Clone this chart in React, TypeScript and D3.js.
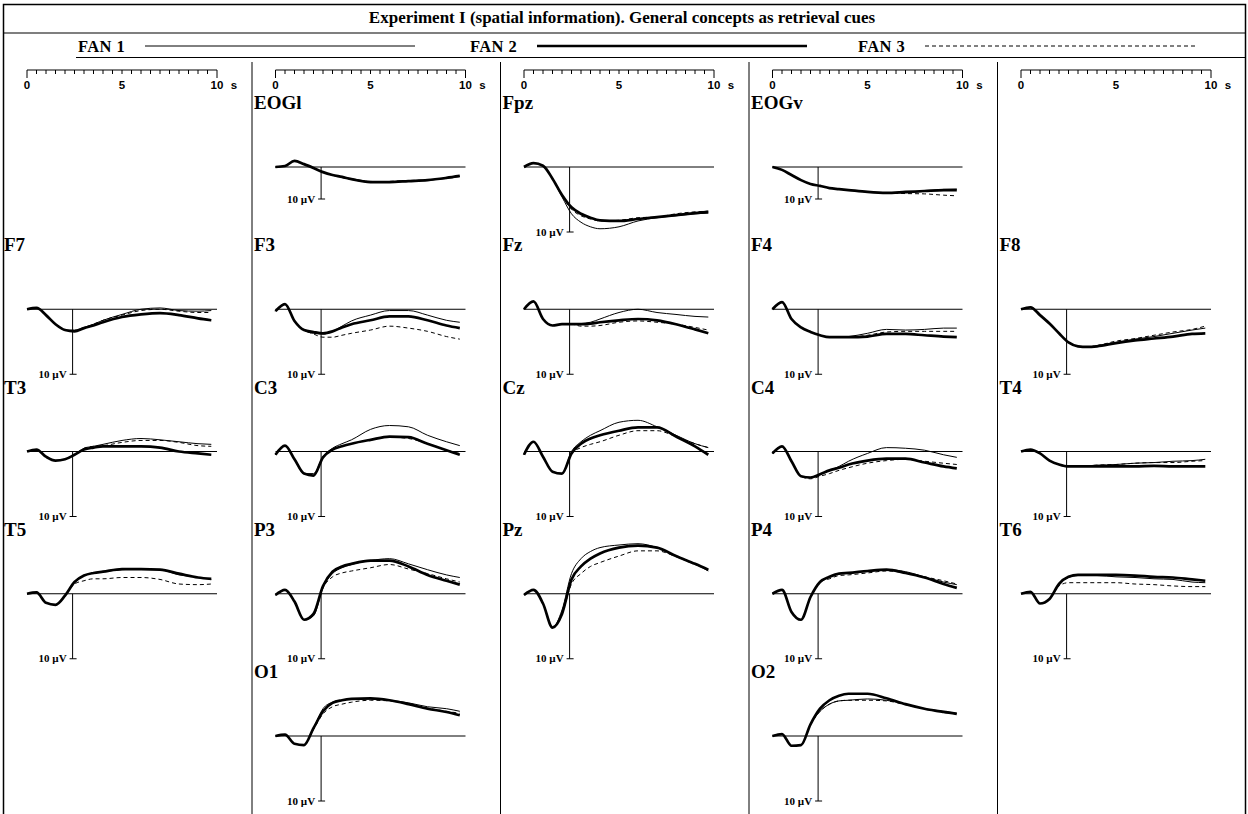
import React from 'react';
import * as d3 from 'd3';

// sample times (s) shared by every trace
const TIMES = [0, 0.5, 1, 1.5, 2, 2.5, 3, 3.5, 4, 5, 6, 7, 8, 9, 9.7];
const AXIS_TICKS = [0, 5, 10];
const FAN_LABELS = ['FAN 1', 'FAN 2', 'FAN 3'];
const TITLE = 'Experiment I (spatial information). General concepts as retrieval cues';

// µV values, positive plotted downward; each channel: [FAN 1, FAN 2, FAN 3]
const EOGL = [
  [0, -0.3, -1.9, -0.9, 0.3, 1.6, 2.5, 3.1, 3.6, 4.5, 4.7, 4.5, 4.1, 3.6, 3.0],
  [0, -0.3, -1.9, -0.9, 0.3, 1.6, 2.5, 3.1, 3.8, 4.7, 4.7, 4.4, 4.1, 3.4, 2.8],
  [0, -0.3, -1.9, -0.9, 0.3, 1.6, 2.6, 3.3, 3.9, 4.7, 4.5, 4.2, 4.1, 3.4, 2.8],
];
const FPZ = [
  [0, -0.6, -0.2, 1.8, 4.6, 7.2, 8.5, 9.2, 9.5, 9.2, 8.3, 7.8, 7.5, 7.2, 7.1],
  [0, -0.6, -0.2, 1.8, 4.3, 6.2, 7.2, 7.8, 8.2, 8.3, 8.0, 7.7, 7.4, 7.1, 6.9],
  [0, -0.6, -0.2, 1.8, 4.4, 6.5, 7.5, 8.0, 8.3, 8.2, 7.8, 7.7, 7.2, 6.9, 6.8],
];
const EOGV = [
  [0, 0.9, 2.5, 4.1, 5.3, 5.9, 6.6, 6.9, 7.2, 7.8, 8.1, 8.1, 7.6, 7.0, 6.9],
  [0, 0.9, 2.5, 4.1, 5.3, 5.9, 6.6, 6.9, 7.2, 7.8, 8.1, 7.8, 7.5, 7.2, 7.2],
  [0, 0.9, 2.5, 4.1, 5.3, 5.9, 6.6, 6.9, 7.2, 7.8, 8.1, 8.3, 8.4, 8.8, 9.0],
];
const F7 = [
  [0, -0.2, 0.9, 2.3, 3.2, 3.2, 2.8, 2.3, 1.7, 0.8, 0, -0.2, 0.2, 0.3, 0.2],
  [0, -0.2, 0.9, 2.3, 3.2, 3.4, 2.9, 2.5, 2.0, 1.2, 0.8, 0.6, 0.9, 1.4, 1.7],
  [0, -0.2, 0.9, 2.3, 3.2, 3.4, 2.9, 2.3, 1.7, 0.9, 0.2, 0, 0.3, 0.5, 0.5],
];
const F3 = [
  [0.3, -0.8, 1.8, 3.2, 3.7, 3.8, 3.4, 2.6, 1.8, 0.9, 0.2, 0.2, 0.9, 1.7, 2.0],
  [0.3, -0.8, 1.8, 3.2, 3.5, 3.7, 3.4, 2.8, 2.3, 1.7, 1.1, 1.1, 1.7, 2.5, 2.9],
  [0.3, -0.8, 1.8, 3.2, 3.8, 4.3, 4.3, 4.0, 3.7, 3.2, 2.6, 2.9, 3.4, 4.2, 4.6],
];
const FZ = [
  [0, -1.2, 1.5, 2.5, 2.3, 2.3, 2.2, 2.0, 1.5, 0.5, 0, 0.5, 0.8, 1.1, 1.2],
  [0, -1.2, 1.5, 2.5, 2.3, 2.3, 2.3, 2.2, 2.0, 1.7, 1.5, 1.7, 2.3, 3.1, 3.7],
  [0, -1.2, 1.5, 2.5, 2.3, 2.3, 2.6, 2.6, 2.5, 2.0, 1.8, 2.0, 2.3, 2.8, 3.2],
];
const F4 = [
  [0, -1.1, 1.5, 2.8, 3.5, 4.0, 4.3, 4.3, 4.2, 3.7, 3.1, 3.2, 3.1, 2.9, 2.9],
  [0, -1.1, 1.5, 2.8, 3.5, 4.0, 4.3, 4.3, 4.3, 4.2, 3.8, 3.8, 4.0, 4.2, 4.3],
  [0, -1.1, 1.5, 2.8, 3.5, 4.0, 4.3, 4.3, 4.3, 4.0, 3.5, 3.4, 3.4, 3.4, 3.4],
];
const F8 = [
  [0, -0.3, 0.9, 2.2, 3.7, 5.1, 5.7, 5.8, 5.6, 5.1, 4.6, 4.2, 3.7, 3.2, 2.9],
  [0, -0.3, 0.9, 2.2, 3.7, 5.1, 5.7, 5.8, 5.7, 5.2, 4.8, 4.5, 4.2, 3.8, 3.7],
  [0, -0.3, 0.9, 2.2, 3.7, 5.1, 5.7, 5.8, 5.6, 4.9, 4.5, 4.0, 3.5, 3.1, 2.6],
];
const T3 = [
  [0, -0.3, 0.8, 1.4, 1.2, 0.5, -0.5, -0.8, -1.1, -1.7, -2.0, -1.8, -1.5, -1.2, -1.1],
  [0, -0.3, 0.8, 1.4, 1.2, 0.5, -0.3, -0.6, -0.8, -0.8, -0.8, -0.6, 0, 0.3, 0.5],
  [0, -0.3, 0.8, 1.4, 1.2, 0.5, -0.5, -0.8, -0.9, -1.4, -1.7, -1.7, -1.4, -0.9, -0.8],
];
const C3 = [
  [0.5, -0.9, 1.2, 3.4, 3.4, 0.8, -0.5, -1.2, -1.8, -3.4, -4.0, -3.8, -2.5, -1.5, -0.9],
  [0.5, -0.9, 1.2, 3.4, 3.7, 0.9, -0.3, -0.8, -1.2, -1.8, -2.3, -2.2, -1.2, -0.2, 0.5],
  [0.5, -0.9, 1.2, 3.4, 3.7, 0.9, -0.3, -0.8, -1.2, -1.8, -2.2, -2.0, -1.2, -0.2, 0.3],
];
const CZ = [
  [0.5, -1.5, 0.8, 3.1, 3.4, 0, -1.5, -2.5, -3.2, -4.5, -4.8, -3.8, -2.5, -1.2, -0.6],
  [0.5, -1.5, 0.8, 3.1, 3.4, 0.3, -1.2, -2.0, -2.5, -3.2, -3.7, -3.7, -2.3, -0.8, 0.5],
  [0.5, -1.5, 0.8, 3.1, 3.4, 0.3, -0.6, -1.1, -1.5, -2.5, -3.2, -3.2, -2.3, -1.2, -0.6],
];
const C4 = [
  [0.3, -0.8, 1.5, 3.8, 4.0, 3.5, 2.9, 2.3, 1.5, 0.3, -0.6, -0.5, -0.2, 0.5, 0.9],
  [0.3, -0.8, 1.5, 3.8, 4.0, 3.5, 2.9, 2.5, 2.0, 1.4, 1.1, 1.1, 1.7, 2.3, 2.6],
  [0.3, -0.8, 1.5, 3.8, 4.2, 3.8, 3.4, 2.9, 2.5, 1.8, 1.4, 1.2, 1.5, 1.8, 2.0],
];
const T4 = [
  [0, -0.3, 0.3, 1.4, 2.0, 2.3, 2.3, 2.2, 2.1, 2.0, 1.8, 1.7, 1.5, 1.4, 1.2],
  [0, -0.3, 0.3, 1.4, 2.0, 2.3, 2.3, 2.3, 2.3, 2.3, 2.3, 2.2, 2.3, 2.3, 2.3],
  [0, -0.3, 0.3, 1.4, 2.0, 2.3, 2.3, 2.2, 2.1, 2.0, 1.8, 1.7, 1.7, 1.5, 1.4],
];
const T5 = [
  [0, -0.2, 1.4, 1.7, 0.3, -1.8, -2.8, -3.2, -3.4, -3.7, -3.8, -3.7, -2.9, -2.5, -2.2],
  [0, -0.2, 1.4, 1.7, 0.3, -1.8, -2.8, -3.2, -3.4, -3.8, -3.8, -3.7, -3.1, -2.5, -2.3],
  [0, -0.2, 1.4, 1.7, 0.3, -1.5, -2.0, -2.3, -2.3, -2.5, -2.5, -2.2, -1.5, -1.4, -1.5],
];
const P3 = [
  [0.2, -0.6, 1.2, 4.0, 3.4, -0.9, -3.1, -4.0, -4.5, -5.1, -5.4, -4.6, -3.7, -2.9, -2.5],
  [0.2, -0.6, 1.2, 4.0, 3.1, -1.2, -3.4, -4.2, -4.6, -5.1, -5.1, -4.2, -2.9, -2.0, -1.4],
  [0.2, -0.6, 1.2, 4.0, 3.1, -0.9, -2.6, -3.2, -3.5, -4.0, -4.5, -3.8, -3.1, -2.3, -1.8],
];
const PZ = [
  [0.2, -0.6, 1.5, 5.2, 2.5, -3.1, -5.4, -6.5, -7.1, -7.5, -7.7, -7.1, -5.8, -4.6, -3.5],
  [0.2, -0.6, 1.5, 5.2, 3.1, -2.2, -4.2, -5.4, -6.2, -7.1, -7.4, -7.1, -5.8, -4.6, -3.7],
  [0.2, -0.6, 1.5, 5.2, 3.1, -1.5, -3.1, -4.2, -4.8, -5.8, -6.6, -6.6, -5.7, -4.5, -3.7],
];
const P4 = [
  [0, -0.6, 2.8, 4.0, 0.5, -1.8, -2.6, -3.1, -3.2, -3.4, -3.7, -3.4, -2.6, -1.8, -1.4],
  [0, -0.6, 2.8, 4.0, 0.5, -1.8, -2.6, -3.1, -3.2, -3.5, -3.7, -3.2, -2.5, -1.5, -0.9],
  [0, -0.6, 2.8, 4.0, 0.5, -1.8, -2.3, -2.8, -2.9, -3.2, -3.5, -3.2, -2.6, -2.0, -1.5],
];
const T6 = [
  [0, -0.3, 1.5, 0.8, -1.5, -2.5, -2.8, -2.8, -2.8, -2.6, -2.5, -2.3, -2.2, -1.8, -1.7],
  [0, -0.3, 1.5, 0.8, -1.5, -2.6, -2.9, -2.9, -2.9, -2.9, -2.8, -2.6, -2.5, -2.2, -2.0],
  [0, -0.3, 1.5, 0.8, -1.2, -1.7, -1.7, -1.7, -1.7, -1.7, -1.5, -1.4, -1.2, -1.1, -1.1],
];
const O1 = [
  [0, -0.2, 1.2, 1.4, -1.2, -4.2, -5.2, -5.5, -5.7, -5.7, -5.5, -5.1, -4.5, -4.2, -3.8],
  [0, -0.2, 1.2, 1.4, -1.2, -3.8, -5.1, -5.5, -5.7, -5.8, -5.5, -4.9, -4.2, -3.7, -3.2],
  [0, -0.2, 1.2, 1.4, -1.0, -3.4, -4.5, -4.9, -5.2, -5.5, -5.4, -4.9, -4.3, -3.8, -3.5],
];
const O2 = [
  [0, -0.3, 1.5, 1.4, -1.8, -3.8, -4.9, -5.4, -5.5, -5.7, -5.5, -4.9, -4.2, -3.8, -3.5],
  [0, -0.3, 1.5, 1.4, -1.8, -4.2, -5.5, -6.2, -6.5, -6.5, -5.8, -4.9, -4.2, -3.7, -3.4],
  [0, -0.3, 1.5, 1.4, -1.8, -3.8, -4.9, -5.4, -5.5, -5.5, -5.4, -4.8, -4.2, -3.7, -3.4],
];

// electrode montage, rows top to bottom, columns left to right
const GRID = [
  [null, 'EOGl', 'Fpz', 'EOGv', null],
  ['F7', 'F3', 'Fz', 'F4', 'F8'],
  ['T3', 'C3', 'Cz', 'C4', 'T4'],
  ['T5', 'P3', 'Pz', 'P4', 'T6'],
  [null, 'O1', null, 'O2', null],
];
const TRACES = {
  EOGl: EOGL, Fpz: FPZ, EOGv: EOGV,
  F7, F3, Fz: FZ, F4, F8,
  T3, C3, Cz: CZ, C4, T4,
  T5, P3, Pz: PZ, P4, T6,
  O1, O2,
};
const EOG = ['EOGl', 'EOGv'];

const W = 1248, H = 814;
const SPAN = 190;          // px for 10 s
const GAIN = 6.5;          // px per µV
const EOG_GAIN = 3.2;
const BAR_T = 2.4;         // time of the calibration bar
const SERIF = "'Liberation Serif', 'Times New Roman', serif";
const SANS = "'Liberation Sans', Arial, sans-serif";

const STROKES = [
  { width: 1, dash: null },
  { width: 2.7, dash: null },
  { width: 1, dash: '4,3' },
];

export default function App() {
  const colX = d3.scaleLinear().domain([0, 4]).range([27, 1021]);
  const rowY = d3.scaleLinear().domain([0, 4]).range([167, 736]);
  const cols = d3.range(5);

  const panels = [];
  GRID.forEach((row, r) => row.forEach((name, c) => {
    if (!name) return;
    const x0 = colX(c);
    const base = rowY(r);
    const gain = EOG.includes(name) ? EOG_GAIN : GAIN;
    const x = d3.scaleLinear().domain([0, 10]).range([x0, x0 + SPAN]);
    const y = d3.scaleLinear().domain([0, 10]).range([base, base + 10 * gain]);
    const line = d3.line<number>()
      .x((_, i) => x(TIMES[i]))
      .y(d => y(d))
      .curve(d3.curveMonotoneX);
    const bx = x(BAR_T);
    const labelX = c === 0 ? 4 : x0 - 21.5;
    panels.push(
      <g key={name}>
        <text x={labelX} y={base - 58} fontFamily={SERIF} fontWeight="bold" fontSize={19}>{name}</text>
        <line x1={x(0)} x2={x(10)} y1={base} y2={base} stroke="#000" strokeWidth={1} />
        <line x1={bx} x2={bx} y1={base} y2={y(10)} stroke="#000" strokeWidth={1} />
        <line x1={bx - 3} x2={bx + 4} y1={y(10)} y2={y(10)} stroke="#000" strokeWidth={1} />
        <text x={bx - 6} y={y(10) + 3.5} textAnchor="end" fontFamily={SERIF} fontWeight="bold" fontSize={11}>10 µV</text>
        {TRACES[name].map((vals, k) => (
          <path key={k} d={line(vals)} fill="none" stroke="#000"
            strokeWidth={STROKES[k].width}
            strokeDasharray={STROKES[k].dash ?? undefined}
            strokeLinejoin="round" />
        ))}
      </g>
    );
  }));

  const halfTicks = d3.range(0, 10.01, 0.5);

  return (
    <svg width={W} height={H} viewBox={`0 0 ${W} ${H}`}
      style={{ position: 'absolute', left: 0, top: 0, background: '#fff' }}>
      {/* frame */}
      <path d={`M3.5,${H} V4.5 H1245.5 V${H}`} fill="none" stroke="#000" strokeWidth={1.5} />
      <line x1={3} x2={1246} y1={33} y2={33} stroke="#000" strokeWidth={1.2} />
      <line x1={76} x2={1246} y1={57.5} y2={57.5} stroke="#000" strokeWidth={1.2} />
      <text x={622} y={23} textAnchor="middle" fontFamily={SERIF} fontWeight="bold" fontSize={17}>{TITLE}</text>

      {/* legend */}
      {FAN_LABELS.map((lab, k) => {
        const lx = [78, 470, 858][k];
        return (
          <g key={lab}>
            <text x={lx} y={52} fontFamily={SERIF} fontWeight="bold" fontSize={16.5} letterSpacing={0.4}>{lab}</text>
            <line x1={lx + 67} x2={lx + 337} y1={46} y2={46} stroke="#000"
              strokeWidth={STROKES[k].width} strokeDasharray={STROKES[k].dash ?? undefined} />
          </g>
        );
      })}

      {/* column dividers */}
      {cols.slice(1).map(c => (
        <line key={c} x1={colX(c) - 23.5} x2={colX(c) - 23.5} y1={62} y2={H} stroke="#000" strokeWidth={1} />
      ))}

      {/* time axes */}
      {cols.map(c => {
        const x0 = colX(c);
        const x = d3.scaleLinear().domain([0, 10]).range([x0, x0 + SPAN]);
        return (
          <g key={c} fontFamily={SANS} fontWeight="bold" fontSize={11.5}>
            <line x1={x(0)} x2={x(10)} y1={70} y2={70} stroke="#000" strokeWidth={1} />
            {halfTicks.map(t => (
              <line key={t} x1={x(t)} x2={x(t)} y1={70}
                y2={t === 0 || t === 10 ? 78 : 74} stroke="#000" strokeWidth={1} />
            ))}
            {AXIS_TICKS.map(t => (
              <text key={t} x={x(t)} y={89} textAnchor="middle">{t}</text>
            ))}
            <text x={x(10) + 17} y={89} textAnchor="middle">s</text>
          </g>
        );
      })}

      {panels}
    </svg>
  );
}
